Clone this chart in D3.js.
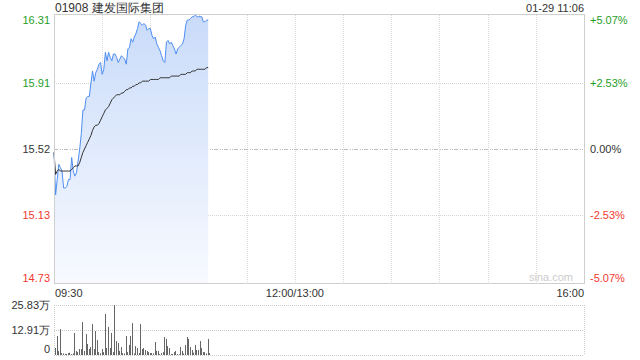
<!DOCTYPE html>
<html>
<head>
<meta charset="utf-8">
<script src="https://cdn.jsdelivr.net/npm/d3@7"></script>
<style>
  html, body { margin: 0; padding: 0; background: #fff; }
  svg { display: block; font-family: "Liberation Sans", Arial, sans-serif; }
</style>
</head>
<body>
<div class="chart"></div>
<script>
(function () {
  'use strict';

  var stockTitle = "01908 建发国际集团";
  var stampText = "01-29 11:06";
  var prevClose = 15.52;
  var priceTicks = [16.31, 15.91, 15.52, 15.13, 14.73];
  var pctTicks = ["+5.07%", "+2.53%", "0.00%", "-2.53%", "-5.07%"];
  var timeLabels = ["09:30", "12:00/13:00", "16:00"];

  // one value per minute from 09:30
  var prices = [
    15.50, 15.25, 15.34, 15.43, 15.41, 15.39, 15.29, 15.29, 15.30, 15.34,
    15.34, 15.47, 15.39, 15.36, 15.38, 15.45, 15.52, 15.61, 15.75, 15.75,
    15.82, 15.83, 15.83, 15.91, 15.98, 15.92, 15.97, 15.99, 16.02, 16.03,
    15.96, 15.99, 16.09, 16.04, 16.09, 16.06, 16.04, 16.08, 16.08, 16.06,
    16.03, 16.05, 16.07, 16.06, 16.05, 16.02, 16.11, 16.12, 16.17, 16.15,
    16.18, 16.20, 16.23, 16.27, 16.26, 16.25, 16.26, 16.25, 16.22, 16.23,
    16.23, 16.19, 16.17, 16.18, 16.14, 16.12, 16.10, 16.07, 16.04, 16.03,
    16.15, 16.16, 16.14, 16.15, 16.13, 16.11, 16.08, 16.11, 16.12, 16.13,
    16.14, 16.17, 16.25, 16.28, 16.28, 16.29, 16.30, 16.30, 16.31, 16.30,
    16.30, 16.30, 16.30, 16.27, 16.27, 16.28, 16.28
  ];
  var avgPrices = [
    15.50, 15.37, 15.39, 15.40, 15.39, 15.39, 15.39, 15.39, 15.39, 15.39,
    15.39, 15.40, 15.41, 15.42, 15.42, 15.42, 15.44, 15.47, 15.50, 15.52,
    15.54, 15.56, 15.58, 15.60, 15.63, 15.65, 15.66, 15.66, 15.67, 15.69,
    15.71, 15.73, 15.75, 15.76, 15.77, 15.79, 15.81, 15.82, 15.83, 15.84,
    15.84, 15.84, 15.85, 15.85, 15.86, 15.87, 15.87, 15.88, 15.88, 15.89,
    15.89, 15.90, 15.90, 15.91, 15.91, 15.92, 15.92, 15.92, 15.92, 15.92,
    15.93, 15.93, 15.93, 15.93, 15.93, 15.93, 15.94, 15.94, 15.94, 15.94,
    15.94, 15.94, 15.94, 15.95, 15.95, 15.95, 15.95, 15.95, 15.95, 15.96,
    15.96, 15.96, 15.96, 15.97, 15.97, 15.97, 15.98, 15.98, 15.98, 15.99,
    15.99, 15.99, 15.99, 15.99, 15.99, 16.00, 16.00
  ];
  // volume per minute, in 万 shares
  var volumes = [
    3.6, 9.8, 2.1, 13.4, 1.0, 0.8, 0.6, 0.5, 1.0, 1.2, 0.5, 0.8, 11.4, 2.1, 1.5,
    3.1, 3.1, 17.0, 2.1, 10.8, 5.7, 3.1, 4.1, 16.0, 3.1, 12.4, 7.7, 1.5, 0.9, 3.1,
    1.5, 21.2, 3.6, 14.5, 3.6, 11.4, 1.5, 25.83, 7.2, 6.2, 2.1, 4.1, 1.0, 0.8, 9.8,
    1.5, 5.2,
    9.8, 16.5, 0.8, 4.6, 3.6, 1.0, 16.0, 3.1, 3.6, 2.6, 2.1, 1.5, 1.0, 1.0, 0.8,
    6.7, 2.1, 2.1, 0.5, 1.0, 1.5, 9.3, 8.3, 4.6, 3.6, 0.5, 0.5, 1.5, 2.1, 0.5,
    0.4, 4.1, 2.1, 0.8, 5.2, 9.3, 8.3, 4.1, 2.6, 1.2, 5.2, 2.6, 2.6, 7.2, 3.6,
    1.5, 1.5, 0.8, 8.3, 1.0
  ];

  var upColor = "#1f9e1f";
  var downColor = "#f03a2e";
  var w = 640, h = 360;
  var left = 54, right = 584;
  var top = 15, bottom = 283;
  var volTop = 305, volBottom = 355;
  var totalMinutes = 330;

  var svg = d3.select(".chart").append("svg").attr("width", w).attr("height", h);

  var x = d3.scaleLinear().domain([0, totalMinutes]).range([left, right]);
  var y = d3.scaleLinear().domain([priceTicks[4], priceTicks[0]]).range([bottom, top]);
  var yVol = d3.scaleLinear().domain([0, d3.max(volumes)]).range([volBottom, volTop]);

  var defs = svg.append("defs");
  var grad = defs.append("linearGradient").attr("id", "areaFill")
    .attr("gradientUnits", "userSpaceOnUse")
    .attr("x1", 0).attr("x2", 0).attr("y1", top).attr("y2", bottom);
  grad.append("stop").attr("offset", "0%").attr("stop-color", "#c9dbf9");
  grad.append("stop").attr("offset", "100%").attr("stop-color", "#f8faff");

  // vertical grid every 30 minutes
  var vGrid = d3.range(30, totalMinutes, 30);
  svg.selectAll(".vgrid").data(vGrid).enter().append("line")
    .attr("x1", function (d) { return Math.round(x(d)) + 0.5; })
    .attr("x2", function (d) { return Math.round(x(d)) + 0.5; })
    .attr("y1", top).attr("y2", bottom)
    .style("stroke", "#dadada").style("stroke-dasharray", "1,1");

  // horizontal grid
  svg.selectAll(".hgrid").data([priceTicks[1], priceTicks[3]]).enter().append("line")
    .attr("x1", left).attr("x2", right)
    .attr("y1", function (d) { return Math.round(y(d)) + 0.5; })
    .attr("y2", function (d) { return Math.round(y(d)) + 0.5; })
    .style("stroke", "#d6d6d6").style("stroke-dasharray", "1,1");
  svg.append("line")
    .attr("x1", left).attr("x2", right)
    .attr("y1", Math.round(y(prevClose)) + 0.5).attr("y2", Math.round(y(prevClose)) + 0.5)
    .style("stroke", "#bdbdbd").style("stroke-dasharray", "4,2,1,1,1,1");

  // area + price line
  var area = d3.area()
    .x(function (d, i) { return x(i); })
    .y0(bottom)
    .y1(function (d) { return y(d); });
  svg.append("path").datum(prices).attr("d", area).style("fill", "url(#areaFill)");

  var line = d3.line()
    .x(function (d, i) { return x(i); })
    .y(function (d) { return y(d); });
  svg.append("path").datum(prices).attr("d", line)
    .style("fill", "none").style("stroke", "#4f8ef2").style("stroke-width", 1);
  svg.append("path").datum(avgPrices).attr("d", line)
    .style("fill", "none").style("stroke", "#333").style("stroke-width", 1);

  // border of main panel
  svg.append("rect")
    .attr("x", left + 0.5).attr("y", top - 0.5)
    .attr("width", right - left).attr("height", bottom - top + 1)
    .style("fill", "none").style("stroke", "#cfcfcf");

  // watermark
  svg.append("text").attr("x", 573).attr("y", 281).attr("text-anchor", "end")
    .style("font-size", "11px").style("fill", "#cccccc").text("sina.com");

  // left price labels
  svg.selectAll(".plabel").data(priceTicks).enter().append("text")
    .attr("x", 50)
    .attr("y", function (d, i) {
      var yy = y(d);
      if (i === 0) yy += 5;
      if (i === priceTicks.length - 1) yy -= 5;
      return yy + 4;
    })
    .attr("text-anchor", "end")
    .style("font-size", "11px")
    .style("fill", function (d) { return d > prevClose ? upColor : (d < prevClose ? downColor : "#333"); })
    .text(function (d) { return d.toFixed(2); });

  // right percent labels
  svg.selectAll(".pct").data(pctTicks).enter().append("text")
    .attr("x", 590)
    .attr("y", function (d, i) {
      var yy = y(priceTicks[i]);
      if (i === 0) yy += 5;
      if (i === pctTicks.length - 1) yy -= 5;
      return yy + 4;
    })
    .style("font-size", "11px")
    .style("fill", function (d, i) { return i < 2 ? upColor : (i > 2 ? downColor : "#333"); })
    .text(function (d) { return d; });

  // title and stamp
  svg.append("text").attr("x", 55).attr("y", 12)
    .style("font-size", "12px").style("fill", "#333").text(stockTitle);
  svg.append("text").attr("x", right).attr("y", 12).attr("text-anchor", "end")
    .style("font-size", "11px").style("fill", "#333").text(stampText);

  // time labels
  var timePos = [0, 150, totalMinutes];
  var anchors = ["start", "middle", "end"];
  svg.selectAll(".tlabel").data(timeLabels).enter().append("text")
    .attr("x", function (d, i) { return x(timePos[i]) + (i === 0 ? 1 : 0); })
    .attr("y", 297)
    .attr("text-anchor", function (d, i) { return anchors[i]; })
    .style("font-size", "11px").style("fill", "#333")
    .text(function (d) { return d; });

  // volume panel grid
  var volTicks = [d3.max(volumes), d3.max(volumes) / 2, 0];
  svg.selectAll(".vhgrid").data(volTicks).enter().append("line")
    .attr("x1", left).attr("x2", right)
    .attr("y1", function (d) { return Math.round(yVol(d)) + 0.5; })
    .attr("y2", function (d) { return Math.round(yVol(d)) + 0.5; })
    .style("stroke", "#cccccc").style("stroke-dasharray", "1,1");
  svg.selectAll(".vside").data([left, right]).enter().append("line")
    .attr("x1", function (d) { return d + 0.5; }).attr("x2", function (d) { return d + 0.5; })
    .attr("y1", volTop).attr("y2", volBottom)
    .style("stroke", "#cccccc").style("stroke-dasharray", "1,1");

  // volume bars
  svg.selectAll(".vol").data(volumes).enter().append("rect")
    .attr("x", function (d, i) { return Math.round(x(i)) + 1; })
    .attr("y", function (d) { return yVol(d); })
    .attr("width", 1)
    .attr("height", function (d) { return volBottom - yVol(d); })
    .style("fill", "#666");

  // volume labels
  svg.selectAll(".vlabel").data(volTicks).enter().append("text")
    .attr("x", 50)
    .attr("y", function (d, i) { return yVol(d) + 4 - (i === 2 ? 6 : 0); })
    .attr("text-anchor", "end")
    .style("font-size", "11px").style("fill", "#333")
    .text(function (d) { return d === 0 ? "0" : (Math.floor(d * 100) / 100).toFixed(2) + "万"; });

})();
</script>
</body>
</html>
